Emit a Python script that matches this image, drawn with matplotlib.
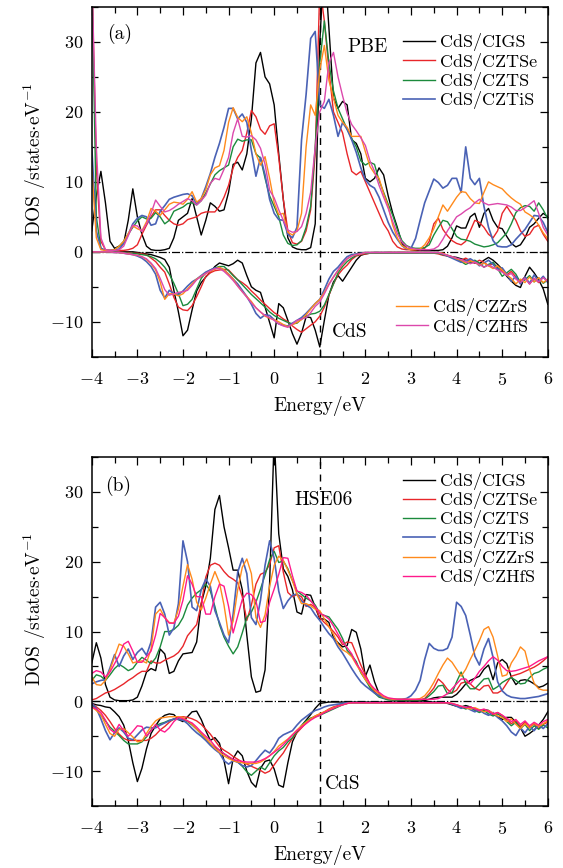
import numpy as np
from matplotlib import pyplot as plt
from matplotlib.ticker import MultipleLocator

plt.rcParams['font.family'] = 'serif'
plt.rcParams['font.serif'] = ['cmr10']
plt.rcParams['mathtext.fontset'] = 'cm'
plt.rcParams['axes.formatter.use_mathtext'] = True

# energy grid, eV
energy = np.round(np.arange(-4.0, 6.05, 0.1), 1)

labels = ['CdS/CIGS', 'CdS/CZTSe', 'CdS/CZTS', 'CdS/CZTiS', 'CdS/CZZrS', 'CdS/CZHfS']

# ---------------- panel (a), PBE ----------------
a_up_cigs = [3, 8, 11.5, 7, 1.5, 0.5, 0.8, 1.2, 4.5, 9,
             5, 2.5, 0.8, 0.3, 0.2, 0.2, 0.3, 0.5, 2, 4.5,
             5, 5.5, 7.6, 5, 2.4, 4.5, 7, 6.5, 5.8, 6,
             8.5, 12.5, 12.8, 11.7, 14, 19, 27, 28.5, 25, 24,
             21, 14, 7.5, 2, 0.7, 0.4, 0.3, 0.3, 0.6, 4,
             30, 42, 32, 22, 20.5, 21.5, 21, 16, 15.5, 14,
             10.5, 10, 10.5, 12, 11, 8, 5.5, 3.5, 1.2, 0.5,
             0.3, 0.2, 0.2, 0.2, 0.2, 0.2, 0.2, 0.3, 0.8, 2,
             3.7, 3.4, 3.4, 5, 5.5, 3.5, 5.5, 6.2, 4.5, 3.5,
             3.3, 2.2, 1.2, 0.7, 1, 2, 3.5, 4, 4.8, 5.5,
             5]
a_up_cztse = [40, 12, 1.5, 0.3, 0.2, 0.2, 0.2, 0.2, 0.3, 0.5,
              1, 2.5, 3.8, 5, 6, 6, 5.2, 4.5, 4, 3.8,
              4, 4.6, 4.8, 5, 5.5, 5.7, 5.7, 5.7, 6.5, 7.8,
              9.5, 12, 13.5, 14.5, 17, 20.2, 19.3, 17.5, 16.8, 18,
              18.3, 13.5, 7.5, 3, 1.3, 1.1, 1.5, 3, 6, 14,
              38, 33, 26, 20, 18.5, 17, 14, 11.5, 11, 11.5,
              10, 8.5, 7, 5.5, 4, 3, 1.5, 0.7, 0.4, 0.3,
              0.3, 0.3, 0.3, 0.5, 1.5, 4, 4.8, 3.2, 2.3, 1.6,
              1.2, 1.0, 1.5, 3, 4.5, 4.2, 3.5, 2.5, 2, 3,
              5.5, 6.5, 5.5, 4.5, 3, 2.2, 2.5, 3.5, 3.8, 2.5,
              1.5]
a_up_czts = [40, 5, 0.5, 0.2, 0.2, 0.3, 0.8, 1.5, 2.5, 3.5,
             4.4, 5, 4.7, 4.8, 5.6, 5, 4, 4.5, 5.8, 6.1,
             6.4, 6.9, 7, 6.7, 7.3, 8.4, 9.7, 11, 11.6, 12,
             12.4, 15, 16.1, 15.8, 16, 16, 14, 13.4, 10.5, 8,
             6.5, 5, 2.4, 1.2, 0.9, 1, 1.6, 3.5, 6.5, 15,
             27, 33, 27, 23, 20.5, 19, 17.5, 16.2, 15, 13,
             12.4, 12.8, 12.5, 10.2, 8.5, 6.8, 5.2, 3.2, 1.6, 0.9,
             0.6, 0.5, 0.5, 0.6, 1, 2.4, 3.5, 4.5, 4.3, 3.3,
             2.2, 1.8, 1.7, 1.5, 1.1, 0.9, 0.7, 0.8, 1, 1.3,
             2, 2.7, 4, 5.6, 6.3, 6.6, 6.5, 5.8, 7, 6,
             4.7]
a_up_cztis = [15, 3, 0.5, 0.2, 0.2, 0.2, 0.4, 1.2, 2.5, 4,
              4.8, 5.2, 5, 3.8, 4, 5.8, 6.6, 7.5, 7.8, 8,
              8.2, 8.3, 8, 6.8, 7.6, 9.3, 11.2, 13.5, 15.5, 17.8,
              20.5, 20.5, 19, 19.7, 18.5, 14.5, 10.8, 13.5, 11, 7.5,
              5.5, 4.6, 4.5, 2.5, 2, 3.5, 16, 22.5, 30.5, 31.5,
              21, 20.5, 21.8, 19.5, 16.5, 18.5, 17.5, 16, 14.2, 12,
              10.3, 9.5, 9.1, 7.8, 6, 4.2, 2.8, 1.8, 0.9, 0.4,
              0.5, 1.9, 4.5, 7, 8.7, 10.4, 9.9, 9.1, 9.5, 10.5,
              10.5, 8.5, 15, 10.5, 9.6, 10.5, 6.5, 3.5, 1.6, 0.8,
              0.7, 0.7, 1, 1.8, 2.5, 3.2, 4.2, 5.2, 5.1, 4.2,
              2.8]
a_up_czzrs = [12, 2, 0.3, 0.2, 0.2, 0.3, 0.8, 1.5, 2.6, 3.7,
              3.3, 3, 4.3, 6.2, 5.8, 5.2, 6, 6.8, 7.1, 7,
              6.8, 7.5, 8.6, 7.1, 7.6, 8.9, 11, 12, 12.3, 14.5,
              18.5, 20.6, 19.2, 18.6, 19.3, 17, 14, 12.4, 13.6, 10.5,
              7, 5.3, 5.5, 2.8, 2.4, 3, 5.5, 15, 21, 19.5,
              26, 29.5, 24.5, 22, 19.5, 18.5, 17.8, 16.5, 16.5, 16.5,
              14.3, 12.2, 11.2, 10.5, 8.3, 6.5, 3.8, 2, 0.9, 0.5,
              0.3, 0.3, 0.4, 1, 2, 3.3, 5, 6.7, 5.8, 6.8,
              7.8, 8.6, 8.5, 7.6, 7, 6.9, 8.5, 10, 9.6, 9.3,
              9, 8.3, 7.7, 7.2, 6.8, 5.7, 5.3, 4.8, 3.8, 2.7,
              1.9]
a_up_czhfs = [40, 15, 2, 0.3, 0.2, 0.2, 0.3, 0.8, 2.3, 3.8,
              3.7, 2.9, 4, 5.5, 7.4, 6.5, 5.7, 5.9, 6.3, 6.8,
              7.2, 7.6, 7.3, 6.7, 7.3, 8.1, 9.8, 10.5, 10.3, 11.8,
              13.5, 17, 19, 16.5, 16.4, 16.6, 16, 14.8, 12.5, 8.8,
              7.7, 6, 4.5, 3.1, 2.8, 2.9, 3.6, 5.5, 8.5, 15,
              20, 21.5, 27, 28.5, 25, 22.3, 19.8, 18.2, 17.3, 16.3,
              15.2, 13, 11.5, 9.5, 7.8, 6.2, 4.3, 2.6, 1.4, 0.8,
              0.5, 0.4, 0.3, 0.3, 0.3, 0.4, 0.8, 1.8, 3, 4,
              5, 5.4, 5.9, 6.3, 7, 7.5, 7, 6.7, 6.8, 6.9,
              6.8, 6.7, 6.4, 5.9, 5.9, 6.3, 6.8, 7.3, 5.5, 3.5,
              2.4]

a_dn_cigs = [0, 0, 0, 0, 0, 0, 0, 0, 0, 0,
             -0.1, -0.2, -0.3, -0.4, -0.6, -0.8, -1.1, -2.2, -5.5, -8.6,
             -12, -11.2, -8.3, -5.6, -4.4, -3.6, -2.9, -2.1, -1.6, -1.8,
             -2, -1.7, -1.2, -1.6, -3.4, -5, -5.5, -5.8, -7.9, -10.1,
             -12.3, -7.4, -8, -9.8, -11.7, -13.2, -11.6, -9.3, -9.4, -11.2,
             -13.6, -9.8, -6.2, -4.3, -3.4, -4.2, -3.2, -2.2, -1.2, -0.5,
             -0.3, -0.2, -0.1, -0.1, -0.1, -0.1, -0.1, -0.1, -0.1, -0.1,
             -0.1, -0.1, -0.1, -0.1, -0.1, -0.1, -0.1, -0.3, -0.5, -0.7,
             -0.8, -1, -1.2, -1.4, -1.6, -1.7, -1.2, -0.8, -1.2, -1.8,
             -2.5, -3.5, -4.2, -4.8, -5.1, -3.5, -2.2, -3, -4, -5.3,
             -7.5]
a_dn_cztse = [0, 0, 0, 0, 0, 0, 0, -0.1, -0.1, -0.2,
              -0.2, -0.3, -0.4, -0.9, -1.4, -2.2, -2.9, -4.6, -6.5, -7.9,
              -8.3, -8.4, -7.7, -6.4, -5, -3.5, -3, -2.7, -2.6, -2.5,
              -2.6, -3.3, -4, -4.4, -4.9, -5.6, -6.2, -6.9, -7.5, -8.1,
              -8.7, -9.1, -9.6, -10, -10.6, -11.1, -11.5, -11, -10.5, -10,
              -9.2, -7.9, -6.2, -4.6, -3.3, -2.5, -1.9, -1.1, -0.6, -0.4,
              -0.3, -0.2, -0.2, -0.2, -0.2, -0.1, -0.1, -0.1, -0.1, -0.1,
              -0.1, -0.1, -0.1, -0.1, -0.1, -0.2, -0.3, -0.5, -0.6, -0.8,
              -1, -1.2, -0.9, -1.3, -1.6, -1.2, -1.5, -2, -1.7, -2.2,
              -2.8, -3.3, -2.8, -3.6, -4.2, -3.6, -4.6, -3.8, -4.4, -3.6,
              -4.2]
a_dn_czts = [0, 0, 0, 0, 0, 0, -0.1, -0.1, -0.2, -0.2,
             -0.3, -0.4, -0.5, -0.7, -1, -1.5, -2.2, -3.2, -4.5, -6,
             -7.7, -7.5, -6.8, -5.3, -3.8, -3, -2.6, -2.3, -2.1, -2.1,
             -2.7, -3.4, -4, -4.7, -5.4, -6.1, -6.7, -7.3, -7.9, -8.6,
             -9.1, -9.5, -9.8, -10.1, -10.3, -10.2, -9.6, -9.2, -8.9, -8.8,
             -8.5, -7.6, -6.1, -4.6, -3, -2.1, -1.4, -0.9, -0.5, -0.3,
             -0.2, -0.2, -0.2, -0.2, -0.2, -0.2, -0.2, -0.2, -0.2, -0.2,
             -0.2, -0.2, -0.2, -0.2, -0.2, -0.2, -0.2, -0.4, -0.6, -0.8,
             -1, -1.4, -1.8, -1.5, -1.2, -1.6, -2.2, -1.8, -1.5, -2.4,
             -3.5, -3, -2.5, -3.2, -4.4, -4, -3.4, -4.3, -3.7, -4.5,
             -4]
a_dn_cztis = [0, 0, 0, 0, 0, -0.1, -0.1, -0.2, -0.3, -0.4,
              -0.6, -0.9, -1.4, -2.1, -3.2, -5.5, -6.6, -5.5, -6, -6.1,
              -5.6, -4.9, -4.3, -3.9, -3.4, -2.9, -2.6, -2.3, -2.3, -2.6,
              -3.2, -3.9, -4.6, -5.5, -6.4, -7.5, -8.8, -9.5, -9, -9.1,
              -9.7, -10.3, -10.5, -10.6, -10.2, -9.8, -9.4, -8.8, -8.1, -7.4,
              -6.8, -5.4, -3.9, -2.8, -2.2, -1.4, -0.7, -0.4, -0.3, -0.2,
              -0.1, -0.1, -0.1, -0.1, -0.1, -0.1, -0.1, -0.1, -0.1, -0.1,
              -0.1, -0.1, -0.1, -0.1, -0.1, -0.1, -0.1, -0.3, -0.6, -0.9,
              -1.2, -1.5, -1.3, -1, -1.4, -2, -1.6, -1.2, -1.8, -2.5,
              -2.3, -3.2, -4.2, -3.5, -4.6, -3.6, -4.5, -3.3, -4.2, -3.5,
              -4.4]
a_dn_czzrs = [0, 0, 0, 0, 0, -0.1, -0.1, -0.2, -0.3, -0.4,
              -0.5, -0.7, -1.1, -1.7, -2.6, -4.3, -6.8, -6, -6, -6.3,
              -6, -5.3, -4.6, -3.9, -3.5, -3.1, -2.8, -2.5, -2.2, -2.6,
              -3.2, -3.9, -4.9, -5.7, -6.4, -7.1, -8, -8.6, -9.2, -9.5,
              -9.7, -10, -10.4, -10.7, -10.4, -10.1, -9.7, -9, -8.2, -7.4,
              -6.8, -5.8, -4.6, -3.6, -2.7, -1.8, -1, -0.6, -0.4, -0.3,
              -0.1, -0.1, -0.1, -0.1, -0.1, -0.1, -0.1, -0.1, -0.1, -0.1,
              -0.1, -0.1, -0.1, -0.1, -0.1, -0.1, -0.1, -0.2, -0.5, -0.7,
              -1, -1.2, -1.6, -1.3, -1.5, -1.9, -1.6, -2, -2.4, -2,
              -2.6, -3.3, -3.8, -4.6, -3.9, -4.4, -3.6, -4.3, -3.7, -4.4,
              -3.9]
a_dn_czhfs = [0, 0, 0, 0, 0, -0.1, -0.1, -0.2, -0.3, -0.4,
              -0.5, -0.7, -1, -1.6, -2.4, -3.8, -5.4, -6.2, -6, -5.8,
              -5.7, -5.5, -4.8, -4, -3.5, -3.1, -2.7, -2.4, -2.4, -2.8,
              -3.4, -4.1, -4.9, -5.7, -6.5, -7.3, -8, -8.6, -9.1, -9.4,
              -9.8, -10.3, -10.6, -10.8, -10.3, -9.8, -9.6, -9.4, -8.7, -7.8,
              -7.2, -6, -4.7, -3.6, -2.6, -1.7, -1, -0.6, -0.4, -0.3,
              -0.1, -0.1, -0.1, -0.1, -0.1, -0.1, -0.1, -0.1, -0.1, -0.1,
              -0.1, -0.1, -0.1, -0.1, -0.1, -0.1, -0.1, -0.3, -0.5, -0.7,
              -0.9, -1.1, -1.4, -1.7, -1.5, -1.8, -2.2, -1.9, -2.2, -2.6,
              -2.9, -3.4, -3.1, -3.9, -4.4, -3.8, -4.6, -3.8, -4.3, -3.7,
              -4.2]

# ---------------- panel (b), HSE06 ----------------
b_up_cigs = [5.5, 8.4, 6.2, 2.4, 0.6, 0.2, 0.1, 0.1, 0.1, 0.2,
             0.6, 2.2, 4.2, 4.7, 4.4, 7.5, 6.8, 4, 4.3, 5.8,
             6.8, 6.9, 7, 8.5, 14, 16.5, 20.5, 27.5, 29.5, 25,
             22, 18.8, 18.8, 16, 9.5, 3.5, 1.3, 1.5, 4.5, 17,
             38, 24, 19, 17.9, 16, 12.8, 12.5, 15.3, 15.2, 13.5,
             11.8, 11.8, 11.3, 9.1, 8.4, 7.8, 8, 10.3, 9.9, 7.5,
             3.6, 5.2, 2.8, 1.1, 0.5, 0.3, 0.2, 0.2, 0.1, 0.1,
             0.1, 0.1, 0.1, 0.1, 0.3, 0.5, 0.6, 0.6, 0.6, 0.6,
             1.0, 1.7, 2.5, 3, 3.3, 3.6, 4.6, 5.2, 3.1, 5.5,
             6, 5.4, 3.5, 2.4, 3, 3.1, 2.9, 2.5, 2, 2.2,
             2.6]
b_up_cztse = [0.2, 0.4, 0.8, 1.2, 1.4, 1.7, 2.1, 2.5, 3, 3.4,
              3.9, 4.3, 4.3, 5.8, 5.5, 5.5, 5.9, 6.2, 6.5, 7,
              7.9, 9.4, 10.2, 11, 14, 17.8, 19.5, 19.8, 19.5, 18.6,
              17.9, 17.5, 17, 15, 11.6, 13.8, 16.8, 18.2, 18.5, 19.6,
              22, 22.3, 18.5, 15.6, 15, 15.3, 15, 13.6, 13.9, 13.5,
              12, 11.3, 10.7, 10, 9.2, 8.1, 8.5, 8.4, 6.8, 5.2,
              3.8, 2.5, 1.4, 0.8, 0.5, 0.3, 0.2, 0.2, 0.2, 0.2,
              0.2, 0.2, 0.2, 0.4, 1.1, 1.9, 3.2, 2.6, 1.7, 1.2,
              1.6, 2.6, 2.8, 2.5, 1.9, 1.6, 2.2, 2.3, 1.2, 1.2,
              1.6, 2.6, 3.6, 3.8, 4, 4.3, 4.6, 4.9, 5.3, 5.8,
              6.4]
b_up_czts = [3, 3.8, 3.6, 3, 3.8, 4.7, 5.3, 4.9, 4.4, 4.7,
             5.6, 6.3, 5.9, 5.4, 6.2, 7.8, 10, 10, 10.3, 10.9,
             12, 13.8, 14.8, 15.5, 16, 16.8, 15.8, 13.6, 11, 9.2,
             7.9, 6.8, 7.8, 9.8, 12, 12.8, 14.2, 16.1, 18.1, 20.3,
             21.5, 19.9, 20.1, 19, 17.3, 15.8, 15.3, 14.8, 14.4, 13.8,
             12.6, 12.3, 12.1, 11.2, 10.3, 9, 7.3, 6.6, 5.7, 4.1,
             3.1, 2, 1.2, 0.6, 0.4, 0.2, 0.2, 0.2, 0.2, 0.2,
             0.2, 0.2, 0.2, 0.3, 0.8, 1.4, 2.2, 2.3, 1.1, 1.2,
             2.8, 4.2, 2.6, 1.8, 1.8, 2.5, 3.2, 3.3, 1.7, 2.1,
             2.7, 3.1, 3.4, 3, 2.5, 2.6, 3.4, 4, 4.2, 4.6,
             4.9]
b_up_cztis = [2.5, 2.8, 3, 3.1, 4.8, 6.7, 5, 6.5, 7.5, 6,
              7, 7.6, 6.6, 8.5, 13.5, 14.2, 12.5, 9.5, 10.5, 14,
              23, 20, 13.5, 13, 16, 17.5, 16.5, 13, 11.3, 9.5,
              8.4, 12.5, 18.5, 20.5, 18.3, 12, 11, 14.5, 19.5, 23,
              20.5, 15.8, 13.3, 14.4, 15.2, 15.4, 14.4, 13.8, 13.4, 12.4,
              11.6, 10.6, 9.7, 9, 7.8, 6.9, 5.8, 4.7, 3.7, 2.8,
              2.2, 1.7, 1.2, 0.8, 0.5, 0.4, 0.3, 0.3, 0.3, 0.4,
              0.8, 1.6, 3, 6, 8.3, 7.6, 7.3, 7.3, 7.6, 9.2,
              14.2, 13.6, 12.3, 9.5, 6.5, 5.2, 7.5, 9, 6.3, 2.8,
              1.5, 0.9, 0.6, 0.5, 0.4, 0.4, 0.5, 0.6, 0.7, 0.9,
              1.1]
b_up_czzrs = [3.5, 2.4, 2.3, 3, 4.5, 6.4, 8.2, 7.9, 6.8, 5.5,
              5.7, 5.8, 5.5, 7.5, 12.5, 13.2, 12, 11.3, 11.2, 13.2,
              16.5, 19.6, 17.5, 14.2, 13.1, 14.8, 16.8, 18.6, 17, 13.8,
              9.5, 11.5, 16, 19.2, 20.4, 18.3, 12, 10.6, 12.4, 16.5,
              19.5, 20.8, 20.2, 18.8, 17.3, 15.3, 14, 14, 13.7, 13.2,
              13, 11.8, 10.7, 9.6, 8.2, 7.4, 7, 6.4, 5.3, 4.2,
              3.1, 2.3, 1.6, 1.1, 0.6, 0.4, 0.3, 0.3, 0.3, 0.3,
              0.3, 0.3, 0.4, 0.8, 1.6, 2.7, 4, 5.2, 6.2, 5.6,
              4.6, 3.6, 4.6, 6, 7.3, 8.7, 10.3, 10.7, 9.2, 6.5,
              3.6, 3.8, 5.5, 6.5, 7.8, 7.2, 4.6, 2.6, 1.8, 1.6,
              1.6]
b_up_czhfs = [4, 4.4, 4.2, 3.5, 4.2, 5.4, 6.6, 8.2, 8.6, 7.2,
              5.6, 5.6, 6.4, 7.2, 9.5, 12.6, 12, 11.2, 11.2, 12.2,
              14.5, 18, 16.8, 15, 15, 12.5, 12.5, 15, 16.8, 16.5,
              13.6, 9.8, 12.2, 14.6, 15.5, 15.3, 14.4, 11.3, 11.5, 14.2,
              16.1, 18.2, 20.6, 20.5, 18, 15.8, 15.6, 15.2, 14.4, 13.6,
              12.6, 12.3, 11.8, 10.8, 9.6, 8.5, 7.7, 6.8, 5.4, 4.5,
              3.5, 2.5, 1.8, 1.3, 0.8, 0.5, 0.4, 0.3, 0.3, 0.3,
              0.3, 0.3, 0.3, 0.3, 0.3, 0.3, 0.4, 0.7, 1.1, 1.8,
              2.5, 3.2, 3.2, 2.5, 3.3, 4.3, 5, 5.8, 6.4, 5.9,
              5, 4.4, 4.3, 4.4, 4.6, 4.8, 5, 5.4, 5.8, 6.1,
              6.4]

b_dn_cigs = [-0.3, -0.5, -0.6, -0.8, -0.9, -1.5, -2.2, -3.4, -5.6, -8.8,
             -11.5, -9.6, -6.8, -4.6, -3.5, -2.5, -2, -1.8, -1.9, -2.6,
             -2.9, -2.2, -1.5, -1.4, -2.6, -4.2, -5.6, -5.2, -6, -8.5,
             -11.8, -8.2, -7.1, -7.8, -10, -11.6, -12.3, -9.6, -8.6, -8.4,
             -9.7, -12, -12.3, -8.8, -5.8, -4.4, -3.5, -2.7, -1.9, -1,
             -0.3, -0.2, -0.1, -0.1, -0.1, -0.1, -0.1, -0.1, -0.1, -0.1,
             -0.1, -0.1, -0.1, -0.1, -0.1, -0.1, -0.1, -0.1, -0.1, -0.1,
             -0.1, -0.1, -0.1, -0.1, -0.1, -0.1, -0.1, -0.1, -0.3, -0.5,
             -0.7, -0.8, -0.6, -0.8, -1.1, -1.3, -1.2, -1.3, -1.8, -2.2,
             -2.6, -2.3, -2.3, -3, -3.8, -5, -4.6, -4.1, -3.4, -2.6,
             -1.5]
b_dn_cztse = [-0.3, -0.8, -1.3, -2, -2.9, -3.9, -4.7, -5.3, -5.6, -5.6,
              -5.6, -5.6, -5.6, -5.3, -4.8, -4.1, -3.6, -3, -2.5, -2.3,
              -2.2, -2.3, -2.5, -2.8, -3.3, -4, -4.7, -5.6, -6.5, -7,
              -7.4, -7.9, -8.3, -8.7, -9, -9.3, -9.6, -9.9, -10.3, -10,
              -9.1, -8.2, -7.4, -6.3, -5.3, -4.5, -3.8, -3.1, -2.5, -2.1,
              -1.8, -1.5, -1.1, -0.8, -0.6, -0.4, -0.3, -0.2, -0.2, -0.2,
              -0.2, -0.2, -0.2, -0.2, -0.2, -0.2, -0.2, -0.2, -0.2, -0.2,
              -0.2, -0.2, -0.2, -0.2, -0.2, -0.2, -0.2, -0.2, -0.2, -0.4,
              -0.6, -0.8, -1, -0.8, -1.1, -1.4, -1.2, -1.5, -1.9, -1.6,
              -2, -2.6, -3.2, -2.8, -3.6, -3, -3.8, -3.2, -3.9, -3.3,
              -3]
b_dn_czts = [-0.5, -1.2, -2, -2.8, -3.7, -4.3, -4.9, -5.6, -6.1, -6.1,
             -6.1, -5.8, -5.1, -4.1, -3.5, -3.2, -3, -2.7, -2.6, -2.5,
             -2.6, -2.9, -3.4, -4, -4.7, -5.4, -6.1, -6.6, -7, -7.5,
             -8, -8.4, -8.7, -9.3, -10.1, -10.6, -10, -9.4, -9.8, -8.8,
             -7.8, -7.1, -6.6, -5.8, -5.2, -4.3, -3.5, -2.8, -2.4, -2.2,
             -2, -1.7, -1.4, -1.1, -0.8, -0.5, -0.3, -0.2, -0.2, -0.2,
             -0.2, -0.2, -0.2, -0.2, -0.2, -0.2, -0.2, -0.2, -0.2, -0.2,
             -0.2, -0.2, -0.2, -0.2, -0.2, -0.2, -0.2, -0.2, -0.2, -0.4,
             -0.5, -0.8, -1.1, -0.9, -1.3, -1.6, -1.3, -1.8, -2.1, -1.8,
             -2.2, -2.9, -3.5, -3, -3.9, -3.3, -4.2, -3.5, -4, -3.4,
             -3.8]
b_dn_cztis = [-0.3, -1, -2.5, -4.2, -5.5, -4.5, -3.8, -4.4, -5.3, -5.5,
              -4.8, -4.1, -3.7, -3.8, -3.8, -3.4, -3.1, -2.8, -2.5, -2.6,
              -2.7, -3.2, -3.9, -4.5, -5, -5.6, -6.3, -6.9, -7.4, -8.5,
              -9, -8.5, -8.7, -9.2, -9.4, -9.2, -8.5, -7.7, -7, -7.4,
              -6.5, -5.3, -4.8, -4.5, -4.2, -3.4, -2.7, -2.2, -1.7, -1.3,
              -1.1, -0.8, -0.6, -0.5, -0.4, -0.3, -0.2, -0.2, -0.2, -0.2,
              -0.2, -0.2, -0.2, -0.2, -0.2, -0.2, -0.2, -0.2, -0.2, -0.2,
              -0.2, -0.2, -0.2, -0.2, -0.2, -0.2, -0.2, -0.2, -0.2, -0.4,
              -0.7, -1, -0.8, -1.2, -1.5, -1.2, -1.7, -2, -1.6, -2.3,
              -2.8, -3.5, -4.4, -4.9, -3.8, -4.5, -3.6, -4.2, -3.4, -3.9,
              -3.2]
b_dn_czzrs = [-0.8, -1.3, -1.9, -3.3, -4.6, -5, -4, -3.9, -4.5, -5.1,
              -5.8, -5.7, -4.6, -3.6, -2.8, -2.4, -2.3, -2.2, -2.2, -2.2,
              -2.3, -2.8, -3.3, -4, -4.6, -5.3, -6, -6.7, -7.3, -7.8,
              -8.2, -8.5, -8.7, -8.8, -8.9, -8.9, -8.9, -8.7, -8.3, -7.8,
              -7.2, -6.4, -5.9, -5.4, -4.8, -4.1, -3.5, -3, -2.5, -2.1,
              -1.8, -1.5, -1.2, -0.9, -0.7, -0.5, -0.3, -0.2, -0.2, -0.2,
              -0.2, -0.2, -0.2, -0.2, -0.2, -0.2, -0.2, -0.2, -0.2, -0.2,
              -0.2, -0.2, -0.2, -0.2, -0.2, -0.2, -0.2, -0.2, -0.2, -0.3,
              -0.5, -0.7, -0.9, -1.1, -0.9, -1.2, -1.5, -1.3, -1.7, -2.1,
              -2.3, -2.9, -2.5, -3.3, -3.9, -3.2, -3.8, -3.1, -3.6, -3.2,
              -2.8]
b_dn_czhfs = [-0.8, -1.1, -1.6, -2.7, -4, -4.5, -3.3, -4.2, -5, -4.3,
              -3.5, -3.6, -5, -4.2, -3.3, -4.1, -4.4, -3.8, -2.9, -2.3,
              -2.5, -2.8, -3.1, -3.7, -4.4, -5, -5.6, -6.4, -7, -7.5,
              -7.9, -8.3, -8.5, -8.6, -8.7, -8.7, -8.7, -8.5, -8.2, -7.8,
              -7.3, -6.8, -6.2, -5.5, -4.8, -4.2, -3.7, -3.2, -2.7, -2.3,
              -2, -1.6, -1.3, -1, -0.7, -0.5, -0.3, -0.2, -0.2, -0.2,
              -0.2, -0.2, -0.2, -0.2, -0.2, -0.2, -0.2, -0.2, -0.2, -0.2,
              -0.2, -0.2, -0.2, -0.2, -0.2, -0.2, -0.2, -0.2, -0.2, -0.3,
              -0.5, -0.7, -0.9, -0.8, -1.1, -1.3, -1.1, -1.4, -1.8, -1.6,
              -2, -2.4, -2.9, -2.6, -3.3, -2.8, -3.5, -3, -3.4, -2.9,
              -2.6]

colors_a = ['black', '#e8262a', '#1b8a3c', '#4a62b5', '#ff8a1c', '#dc48ac']
colors_b = ['black', '#e8262a', '#1b8a3c', '#4a62b5', '#ff8a1c', '#ff1a8c']

panel_a_up = [a_up_cigs, a_up_cztse, a_up_czts, a_up_cztis, a_up_czzrs, a_up_czhfs]
panel_a_dn = [a_dn_cigs, a_dn_cztse, a_dn_czts, a_dn_cztis, a_dn_czzrs, a_dn_czhfs]
panel_b_up = [b_up_cigs, b_up_cztse, b_up_czts, b_up_cztis, b_up_czzrs, b_up_czhfs]
panel_b_dn = [b_dn_cigs, b_dn_cztse, b_dn_czts, b_dn_cztis, b_dn_czzrs, b_dn_czhfs]

leg_kw = dict(frameon=False, fontsize=13, handlelength=1.75, handletextpad=0.3,
              labelspacing=0.07, borderaxespad=0.0, borderpad=0.2)


def style_axes(ax):
    ax.set_xlim(-4, 6)
    ax.set_ylim(-15, 35)
    ax.xaxis.set_major_locator(MultipleLocator(1))
    ax.xaxis.set_minor_locator(MultipleLocator(0.5))
    ax.yaxis.set_major_locator(MultipleLocator(10))
    ax.yaxis.set_minor_locator(MultipleLocator(5))
    ax.tick_params(which='both', direction='in', top=True, right=True, labelsize=13)
    ax.tick_params(which='major', length=6, width=0.9)
    ax.tick_params(which='minor', length=4, width=0.9)
    ax.tick_params(axis='x', pad=10)
    ax.tick_params(axis='y', pad=6)
    for s in ax.spines.values():
        s.set_linewidth(1.1)
    ax.axhline(0, color='black', ls='-.', lw=0.9, zorder=1)
    ax.axvline(1, color='black', ls='--', lw=1.0, dashes=(5, 4), zorder=1)
    ax.set_xlabel('Energy/eV', fontsize=14, labelpad=6)
    ax.set_ylabel(r'DOS /states$\cdot$eV$^{-1}$', fontsize=14)
    ax.yaxis.set_label_coords(-0.095, 0.565)


fig = plt.figure(figsize=(5.63, 8.68), dpi=100)
ax1 = fig.add_axes([0.163, 0.589, 0.81, 0.403])
ax2 = fig.add_axes([0.163, 0.0714, 0.81, 0.402])

# panel (a)
lines_a = []
for up, dn, c, lab in zip(panel_a_up, panel_a_dn, colors_a, labels):
    lw = 1.2 if c == '#4a62b5' else 1.0
    l, = ax1.plot(energy, up, color=c, lw=lw, label=lab)
    ax1.plot(energy, dn, color=c, lw=lw)
    lines_a.append(l)
style_axes(ax1)
leg1 = ax1.legend(handles=lines_a[:4], loc='upper right', bbox_to_anchor=(0.985, 0.935), **leg_kw)
ax1.add_artist(leg1)
ax1.legend(handles=lines_a[4:], loc='lower right', bbox_to_anchor=(0.965, 0.05), **leg_kw)
ax1.text(-3.67, 31.2, '(a)', fontsize=14, va='center')
ax1.text(1.61, 29.2, 'PBE', fontsize=14, va='center')
ax1.text(1.26, -11.4, 'CdS', fontsize=14, va='center')

# panel (b)
lines_b = []
for up, dn, c, lab in zip(panel_b_up, panel_b_dn, colors_b, labels):
    lw = 1.2 if c == '#4a62b5' else 1.0
    l, = ax2.plot(energy, up, color=c, lw=lw, label=lab)
    ax2.plot(energy, dn, color=c, lw=lw)
    lines_b.append(l)
style_axes(ax2)
ax2.legend(handles=lines_b, loc='upper right', bbox_to_anchor=(0.985, 0.968), **leg_kw)
ax2.text(-3.71, 30.9, '(b)', fontsize=14, va='center')
ax2.text(0.45, 28.8, 'HSE06', fontsize=14, va='center',
         bbox=dict(facecolor='white', edgecolor='none', pad=1))
ax2.text(1.11, -11.8, 'CdS', fontsize=14, va='center')

fig.savefig('out.png', dpi=100)
